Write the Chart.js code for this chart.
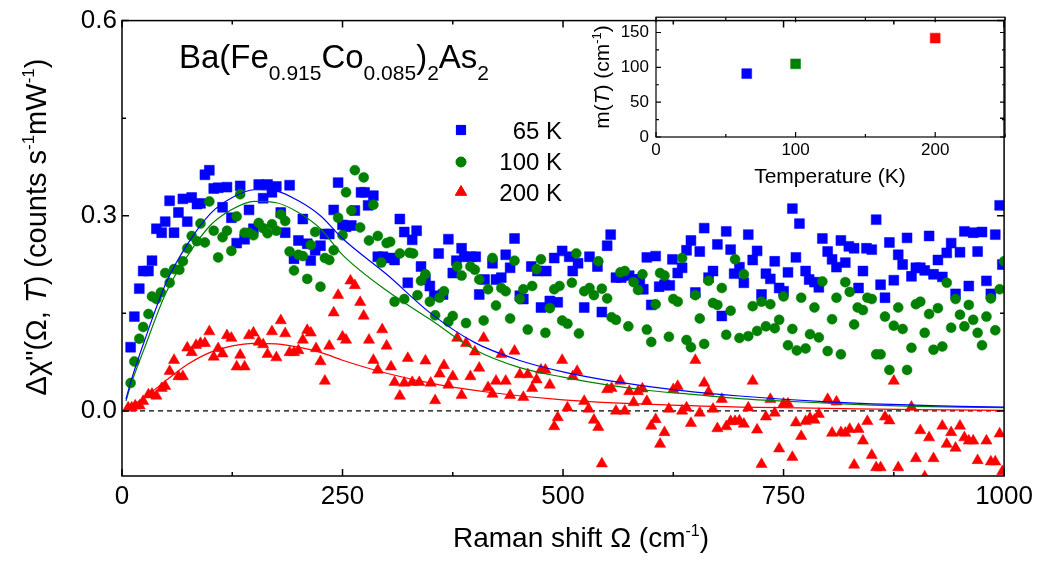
<!DOCTYPE html>
<html>
<head>
<meta charset="utf-8">
<script src="https://cdn.jsdelivr.net/npm/chart.js@4.4.1/dist/chart.umd.min.js"></script>
<style>
  html, body { margin: 0; padding: 0; background: #fff; }
  #wrap { position: relative; width: 1038px; height: 565px; }
  #main { position: absolute; left: 0; top: 0; }
  #inset { position: absolute; left: 560px; top: 0; }
</style>
</head>
<body>
<div id="wrap">
  <canvas id="main" width="1038" height="565"></canvas>
  <canvas id="inset" width="478" height="200"></canvas>
</div>
<script>
// ---- Raman response Δχ''(Ω,T), Ba(Fe0.915Co0.085)2As2 ----
const omega65 = [9.8,14,19.6,24,30,34,39,45,49,54,59,64,69,74,79,85,89,94,99,104,109,114,119,124,130,134,139,144,149,155,160,165,170,175,180,185,190,195,200,205,210,214,219,225,230,235,240,245,250,254,260,264,271,275,279,285,290,296,305,309,315,320,324,329,334,339,344,349,354,359,364,370,375,379,385,388,396,401,405,411,420,424,430,435,440,445,451,455,464,471,475,481,485,490,494,499,507,511,517,524,530,539,544,550,554,560,566,575,581,587,591,595,600,605,609,615,621,624,630,635,640,645,650,655,660,665,670,675,680,685,690,694,700,705,710,715,720,725,730,735,740,745,750,755,760,764,768,775,779,785,790,794,800,805,810,815,820,824,830,835,840,844,850,855,860,865,870,875,880,885,890,895,900,905,910,915,920,925,930,935,940,945,950,955,960,965,970,975,980,985,990,995,998];
const chi65 = [0.098,0.145,0.188,0.215,0.215,0.231,0.28,0.274,0.291,0.323,0.274,0.305,0.326,0.291,0.328,0.318,0.319,0.363,0.370,0.342,0.343,0.313,0.344,0.297,0.258,0.346,0.264,0.309,0.280,0.348,0.327,0.348,0.336,0.345,0.305,0.274,0.347,0.234,0.262,0.295,0.257,0.231,0.247,0.254,0.272,0.272,0.309,0.351,0.286,0.283,0.285,0.308,0.336,0.336,0.316,0.331,0.237,0.237,0.235,0.232,0.295,0.275,0.197,0.263,0.277,0.222,0.202,0.192,0.177,0.242,0.179,0.264,0.212,0.231,0.25,0.237,0.237,0.237,0.179,0.202,0.227,0.202,0.205,0.24,0.22,0.265,0.177,0.172,0.222,0.215,0.159,0.215,0.169,0.235,0.167,0.246,0.237,0.215,0.227,0.159,0.237,0.222,0.152,0.254,0.271,0.205,0.205,0.208,0.202,0.202,0.187,0.236,0.163,0.238,0.191,0.194,0.193,0.233,0.212,0.22,0.247,0.262,0.182,0.245,0.281,0.205,0.215,0.256,0.146,0.276,0.248,0.211,0.221,0.197,0.271,0.232,0.246,0.179,0.211,0.203,0.23,0.189,0.184,0.213,0.311,0.236,0.288,0.215,0.202,0.198,0.19,0.265,0.245,0.233,0.221,0.262,0.228,0.253,0.25,0.189,0.215,0.25,0.248,0.294,0.194,0.174,0.259,0.201,0.24,0.225,0.266,0.207,0.22,0.22,0.216,0.269,0.21,0.232,0.206,0.243,0.258,0.18,0.244,0.276,0.192,0.274,0.245,0.275,0.2,0.18,0.271,0.316,0.225];

const omega100 = [9.8,14,19.6,24,30,34,39,44,49,54,59,65,69,74,79,85,89,94,99,104,109,114,119,124,130,134,139,144,149,155,160,165,170,175,180,185,190,195,200,205,210,214,219,225,230,235,240,245,250,254,260,264,270,274,280,285,290,294,300,304,309,315,320,326,330,335,339,344,349,355,360,365,370,375,380,385,390,395,400,405,410,415,420,424,430,435,440,445,451,455,460,465,470,475,480,485,490,496,499,505,510,515,518,524,530,535,540,544,550,555,560,565,570,574,580,585,590,595,600,605,610,615,620,625,630,635,640,645,650,655,660,665,670,675,680,685,690,695,700,705,710,715,720,725,730,735,740,745,750,755,760,765,770,775,780,785,790,794,800,805,810,815,820,825,830,834,840,845,850,855,860,865,870,875,880,885,890,895,900,905,910,915,920,925,930,935,940,945,950,955,960,965,970,975,980,985,990,995,1000];
const chi100 = [0.043,0.076,0.111,0.129,0.149,0.176,0.172,0.182,0.212,0.197,0.218,0.217,0.23,0.25,0.269,0.261,0.288,0.259,0.322,0.277,0.236,0.267,0.277,0.246,0.299,0.333,0.274,0.274,0.27,0.289,0.281,0.273,0.287,0.277,0.302,0.292,0.245,0.216,0.24,0.238,0.203,0.255,0.275,0.191,0.235,0.232,0.247,0.297,0.27,0.336,0.308,0.37,0.282,0.359,0.262,0.317,0.269,0.228,0.258,0.26,0.168,0.242,0.172,0.243,0.242,0.178,0.2,0.21,0.168,0.147,0.174,0.184,0.137,0.146,0.222,0.208,0.135,0.222,0.217,0.202,0.139,0.187,0.235,0.162,0.189,0.184,0.142,0.231,0.172,0.187,0.125,0.192,0.218,0.233,0.12,0.158,0.187,0.192,0.139,0.134,0.197,0.242,0.119,0.184,0.189,0.178,0.23,0.188,0.173,0.144,0.14,0.213,0.215,0.13,0.198,0.186,0.21,0.125,0.106,0.164,0.212,0.208,0.114,0.172,0.168,0.235,0.109,0.098,0.178,0.142,0.103,0.2,0.166,0.163,0.189,0.117,0.154,0.233,0.112,0.21,0.115,0.161,0.123,0.168,0.13,0.164,0.127,0.14,0.176,0.101,0.126,0.093,0.174,0.096,0.118,0.159,0.113,0.199,0.092,0.141,0.174,0.087,0.198,0.183,0.133,0.159,0.155,0.174,0.172,0.087,0.087,0.145,0.063,0.131,0.159,0.126,0.063,0.097,0.164,0.168,0.12,0.149,0.094,0.158,0.099,0.197,0.128,0.172,0.148,0.13,0.163,0.14,0.12,0.101,0.145,0.173,0.124,0.187,0.23];

const omega200 = [7,11,15,20,24,30,34,39,45,49,54,59,64,69,74,79,84,89,94,99,104,109,114,119,124,130,134,139,144,149,155,160,165,170,175,180,185,190,195,200,205,210,214,220,225,230,235,240,245,250,254,259,264,270,274,280,285,290,295,300,305,309,315,320,324,329,337,344,350,355,360,365,370,375,380,385,390,395,400,405,410,415,420,424,430,435,440,445,451,455,460,465,470,475,480,485,490,494,499,505,511,516,524,529,535,540,544,550,555,560,565,570,575,580,585,590,595,600,605,610,615,620,625,630,635,640,645,650,655,660,665,670,675,680,685,690,695,700,705,710,715,720,725,730,735,740,745,750,755,760,764,770,775,780,785,790,800,805,810,815,820,825,830,835,840,845,850,855,860,865,870,875,880,895,900,905,910,915,920,930,935,940,945,950,955,960,965,970,980,985,990,995,998];
const chi200 = [0.005,0.005,0.008,0.008,0.015,0.025,0.026,0.023,0.035,0.038,0.061,0.078,0.053,0.053,0.097,0.09,0.101,0.104,0.104,0.122,0.083,0.096,0.088,0.116,0.112,0.068,0.086,0.068,0.116,0.12,0.106,0.102,0.087,0.122,0.082,0.139,0.119,0.09,0.09,0.093,0.109,0.124,0.12,0.096,0.076,0.046,0.1,0.151,0.178,0.114,0.109,0.2,0.193,0.167,0.146,0.109,0.078,0.063,0.125,0.1,0.068,0.044,0.023,0.043,0.081,0.044,0.044,0.077,0.043,0.016,0.057,0.07,0.04,0.053,0.112,0.024,0.104,0.053,0.091,0.066,0.112,0.036,0.026,0.046,0.087,0.046,0.024,0.092,0.056,0.021,0.056,0.035,0.048,0.063,0.063,0.04,-0.024,-0.01,0.078,0.005,0.053,0.061,0.015,0.003,-0.014,-0.025,-0.081,0.033,0.035,0.0,0.046,0.0,0.03,0.013,0.03,0.034,0.015,-0.023,-0.013,-0.051,-0.033,0.003,0.033,0.038,0.0,0.005,-0.019,0.078,-0.003,0.043,0.029,0.003,-0.027,0.018,-0.024,-0.016,-0.016,-0.015,-0.02,0.005,0.046,-0.029,-0.082,-0.009,0.018,-0.003,-0.058,0.011,0.011,-0.071,-0.018,-0.039,-0.016,-0.011,-0.014,-0.005,0.018,-0.034,0.014,-0.033,-0.034,-0.028,-0.083,-0.028,-0.046,-0.016,-0.068,-0.087,-0.087,-0.009,-0.015,0.046,-0.087,0.006,-0.073,-0.03,-0.101,-0.041,-0.073,-0.023,-0.051,-0.033,-0.057,-0.023,-0.041,-0.046,-0.046,-0.076,-0.046,-0.078,-0.078,-0.035,-0.093];

// fitted response curves
const fitOmega65  = [4.5,10,25,50,75,100,125,150,175,200,225,250,300,350,400,450,500,550,600,650,700,750,800,850,900,950,1000];
const fitChi65    = [0.018,0.045,0.106,0.197,0.258,0.303,0.328,0.340,0.338,0.323,0.300,0.265,0.210,0.150,0.105,0.078,0.060,0.047,0.037,0.029,0.023,0.018,0.014,0.011,0.009,0.007,0.006];
const fitOmega100 = [4.5,10,25,50,75,100,125,150,175,200,225,250,300,350,400,450,500,550,600,650,700,750,800,850,900,950,1000];
const fitChi100   = [0.015,0.040,0.095,0.182,0.240,0.285,0.310,0.322,0.320,0.305,0.280,0.240,0.185,0.140,0.094,0.067,0.052,0.040,0.031,0.025,0.019,0.015,0.012,0.009,0.007,0.006,0.005];
const fitOmega200 = [0,10,25,50,75,100,125,150,175,200,225,250,300,360,420,500,600,700,800,900,1000];
const fitChi200   = [0.0,0.008,0.020,0.047,0.072,0.090,0.100,0.104,0.103,0.098,0.090,0.078,0.058,0.040,0.028,0.017,0.010,0.006,0.004,0.002,0.001];

const baseOmega = [0, 1000];
const baseChi = [0, 0];

const xTicks = [0, 250, 500, 750, 1000];
const xMinor = [125, 375, 625, 875];
const yTicks = [0, 0.3, 0.6];
const yMinor = [0.15, 0.45];

// inset: m(T)
const temps = [65, 100, 200];
const mValues = [91, 105, 142];
const insetXTicks = [0, 100, 200];
const insetXMinor = [50, 150, 250];
const insetYTicks = [0, 50, 100, 150];
const insetYMinor = [25, 75, 125];

const seriesLabels = ['65 K', '100 K', '200 K'];
const colors = ['#0000ff', '#008000', '#ff0000'];
const FONT = "'Liberation Sans', Arial, Helvetica, sans-serif";

Chart.defaults.font.family = FONT;
Chart.defaults.color = '#000';

const pts = (xs, ys) => xs.map((x, i) => ({ x, y: ys[i] }));

function drawRuns(ctx, runs, x, y, align) {
  let total = 0;
  const widths = runs.map(r => {
    ctx.font = (r[3] ? 'italic ' : '') + r[1] + 'px ' + FONT;
    const w = ctx.measureText(r[0]).width;
    total += w;
    return w;
  });
  let cx = align === 'center' ? x - total / 2 : x;
  ctx.textAlign = 'left';
  ctx.textBaseline = 'alphabetic';
  runs.forEach((r, i) => {
    ctx.font = (r[3] ? 'italic ' : '') + r[1] + 'px ' + FONT;
    ctx.fillText(r[0], cx, y + (r[2] || 0));
    cx += widths[i];
  });
}

function frameTicks(id, xs, xm, ys, ym, major, minor, lw) {
  return {
    id,
    afterDatasetsDraw(chart) {
      const { ctx, chartArea: a, scales } = chart;
      const sx = scales.x, sy = scales.y;
      ctx.save();
      ctx.strokeStyle = '#000';
      ctx.lineWidth = lw;
      ctx.strokeRect(a.left, a.top, a.right - a.left, a.bottom - a.top);
      ctx.beginPath();
      const vt = (v, len) => {
        const p = sx.getPixelForValue(v);
        ctx.moveTo(p, a.bottom); ctx.lineTo(p, a.bottom - len);
        ctx.moveTo(p, a.top); ctx.lineTo(p, a.top + len);
      };
      const ht = (v, len) => {
        const p = sy.getPixelForValue(v);
        ctx.moveTo(a.left, p); ctx.lineTo(a.left + len, p);
        ctx.moveTo(a.right, p); ctx.lineTo(a.right - len, p);
      };
      xs.forEach(v => vt(v, major));
      xm.forEach(v => vt(v, minor));
      ys.forEach(v => ht(v, major));
      ym.forEach(v => ht(v, minor));
      ctx.stroke();
      ctx.restore();
    }
  };
}

const whiteBg = {
  id: 'whiteBg',
  beforeDraw(chart) {
    const c = chart.ctx;
    c.save();
    c.fillStyle = '#fff';
    c.fillRect(0, 0, chart.width, chart.height);
    c.restore();
  }
};

const mainText = {
  id: 'mainText',
  afterDraw(chart) {
    const ctx = chart.ctx;
    ctx.save();
    ctx.fillStyle = '#000';
    // compound formula
    drawRuns(ctx, [
      ['Ba(Fe', 33, 0], ['0.915', 21, 12], ['Co', 33, 0], ['0.085', 21, 12],
      [')', 33, 0], ['2', 21, 12], ['As', 33, 0], ['2', 21, 12]
    ], 179, 68, 'left');
    // legend
    const styles = ['rect', 'circle', 'triangle'];
    const radii = [6.5, 5, 6.5];
    const markY = [130, 162, 192];
    const textY = [139, 170, 201];
    seriesLabels.forEach((lab, i) => {
      ctx.fillStyle = colors[i];
      ctx.strokeStyle = colors[i];
      ctx.lineWidth = 1;
      Chart.helpers.drawPoint(ctx, { pointStyle: styles[i], radius: radii[i], rotation: 0, borderWidth: 1 }, 461, markY[i]);
      ctx.fill();
      ctx.fillStyle = '#000';
      ctx.font = '24px ' + FONT;
      ctx.textAlign = 'right';
      ctx.textBaseline = 'alphabetic';
      ctx.fillText(lab, 562, textY[i]);
    });
    // axis titles
    ctx.fillStyle = '#000';
    drawRuns(ctx, [['Raman shift \u03A9 (cm', 28, 0], ['-1', 16, -11], [')', 28, 0]], 581, 547, 'center');
    ctx.translate(46, 227);
    ctx.rotate(-Math.PI / 2);
    drawRuns(ctx, [
      ['\u0394\u03C7"(\u03A9, ', 29, 0], ['T', 29, 0, true], [') (counts s', 29, 0],
      ['-1', 17, -12], ['mW', 29, 0], ['-1', 17, -12], [')', 29, 0]
    ], 0, 0, 'center');
    ctx.restore();
  }
};

const markerStyles = ['rect', 'circle', 'triangle'];
const markerRadii = [7, 5, 6.5];

new Chart(document.getElementById('main'), {
  type: 'scatter',
  data: {
    datasets: [
      { data: pts(fitOmega65, fitChi65), showLine: true, pointRadius: 0, borderColor: colors[0], borderWidth: 1.2, cubicInterpolationMode: 'monotone', order: 0 },
      { data: pts(fitOmega100, fitChi100), showLine: true, pointRadius: 0, borderColor: colors[1], borderWidth: 1.2, cubicInterpolationMode: 'monotone', order: 0 },
      { data: pts(fitOmega200, fitChi200), showLine: true, pointRadius: 0, borderColor: colors[2], borderWidth: 1.2, cubicInterpolationMode: 'monotone', order: 0 },
      { data: pts(omega200, chi200), pointStyle: markerStyles[2], pointRadius: markerRadii[2], backgroundColor: colors[2], borderColor: colors[2], borderWidth: 0.5, order: 1 },
      { data: pts(omega100, chi100), pointStyle: markerStyles[1], pointRadius: markerRadii[1], backgroundColor: colors[1], borderColor: colors[1], borderWidth: 0.5, order: 2 },
      { data: pts(omega65, chi65), pointStyle: markerStyles[0], pointRadius: markerRadii[0], backgroundColor: colors[0], borderColor: colors[0], borderWidth: 0.5, order: 3 },
      { data: pts(baseOmega, baseChi), showLine: true, pointRadius: 0, borderColor: '#000', borderWidth: 1.2, borderDash: [5, 4], order: 4 }
    ]
  },
  options: {
    responsive: false,
    animation: false,
    devicePixelRatio: 1,
    layout: { padding: { left: 0, top: 15, right: 33, bottom: 0 } },
    plugins: { legend: { display: false }, tooltip: { enabled: false } },
    scales: {
      x: {
        type: 'linear', min: 0, max: 1000,
        afterBuildTicks: s => { s.ticks = xTicks.map(v => ({ value: v })); },
        afterFit: s => { s.height = 89; },
        ticks: { font: { size: 26 }, color: '#000', padding: 5, autoSkip: false, maxRotation: 0, callback: v => String(v) },
        grid: { display: false, drawTicks: false },
        border: { display: false }
      },
      y: {
        type: 'linear', min: -0.1, max: 0.6,
        afterBuildTicks: s => { s.ticks = yTicks.map(v => ({ value: v })); },
        afterFit: s => { s.width = 122; },
        ticks: { font: { size: 26 }, color: '#000', padding: 5, autoSkip: false, callback: v => Number(v).toFixed(1) },
        grid: { display: false, drawTicks: false },
        border: { display: false }
      }
    }
  },
  plugins: [whiteBg, frameTicks('mainFrame', xTicks, xMinor, yTicks, yMinor, 7, 4, 1.5), mainText]
});

const insetText = {
  id: 'insetText',
  afterDraw(chart) {
    const ctx = chart.ctx;
    ctx.save();
    ctx.fillStyle = '#000';
    drawRuns(ctx, [['Temperature (K)', 21, 0]], 270, 183, 'center');
    ctx.translate(49, 77);
    ctx.rotate(-Math.PI / 2);
    drawRuns(ctx, [['m(', 21, 0], ['T', 21, 0, true], [') (cm', 21, 0], ['-1', 13, -8], [')', 21, 0]], 0, 0, 'center');
    ctx.restore();
  }
};

new Chart(document.getElementById('inset'), {
  type: 'scatter',
  data: {
    datasets: [{
      data: pts(temps, mValues),
      pointStyle: 'rect', pointRadius: 7,
      backgroundColor: colors, borderColor: colors, borderWidth: 0.5
    }]
  },
  options: {
    responsive: false,
    animation: false,
    devicePixelRatio: 1,
    layout: { padding: { left: 0, top: 15, right: 33, bottom: 0 } },
    plugins: { legend: { display: false }, tooltip: { enabled: false } },
    scales: {
      x: {
        type: 'linear', min: 0, max: 250,
        afterBuildTicks: s => { s.ticks = insetXTicks.map(v => ({ value: v })); },
        afterFit: s => { s.height = 63; },
        ticks: { font: { size: 17 }, color: '#000', padding: 3, autoSkip: false, maxRotation: 0 },
        grid: { display: false, drawTicks: false },
        border: { display: false }
      },
      y: {
        type: 'linear', min: 0, max: 172,
        afterBuildTicks: s => { s.ticks = insetYTicks.map(v => ({ value: v })); },
        afterFit: s => { s.width = 96; },
        ticks: { font: { size: 17 }, color: '#000', padding: 7, autoSkip: false },
        grid: { display: false, drawTicks: false },
        border: { display: false }
      }
    }
  },
  plugins: [frameTicks('insetFrame', insetXTicks, insetXMinor, insetYTicks, insetYMinor, 5, 3, 1.2), insetText]
});
</script>
</body>
</html>
